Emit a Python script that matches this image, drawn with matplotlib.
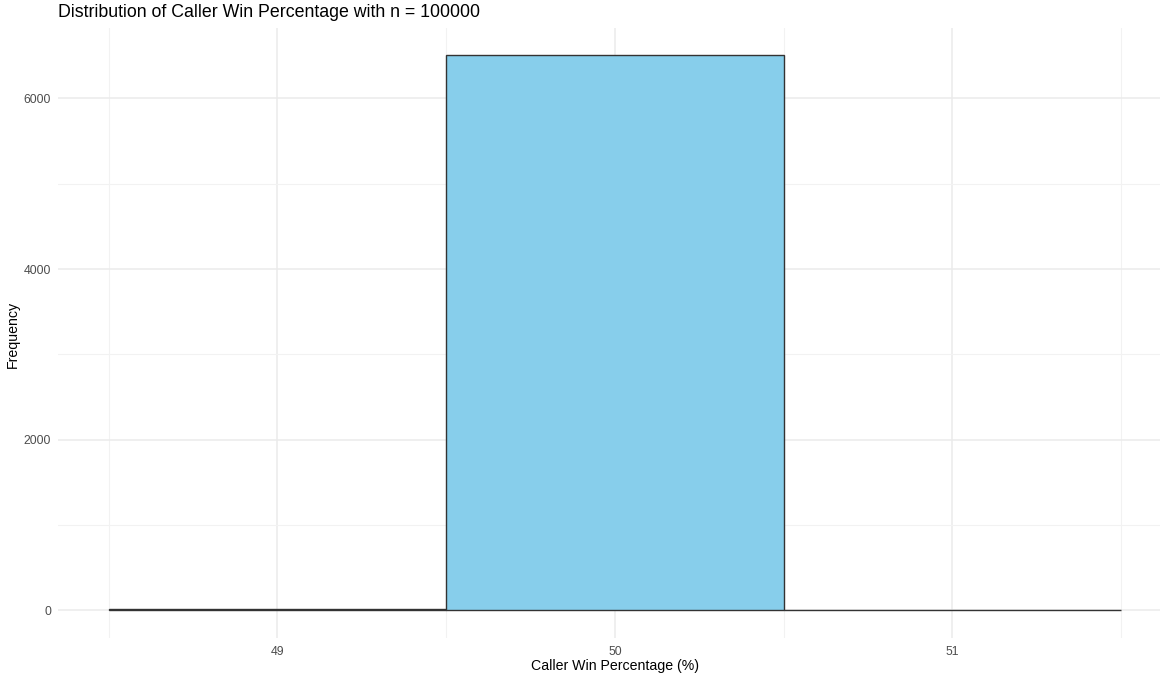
import matplotlib
matplotlib.use("Agg")
import matplotlib.pyplot as plt
from matplotlib.ticker import MultipleLocator

# 直方图数据（每个 bin 宽 1，中心在整数处）
bin_centers = [49, 50, 51]
counts = [12, 6505, 1]
bin_width = 1.0

x_ticks = [49, 50, 51]
y_ticks = [0, 2000, 4000, 6000]

plt.rcParams['font.family'] = ['Liberation Sans', 'DejaVu Sans']

fig = plt.figure(figsize=(11.6, 6.77), dpi=100)
ax = fig.add_axes([58 / 1160, 39 / 677, 1102 / 1160, 610 / 677])

ax.bar(bin_centers, counts, width=bin_width, color='#87CEEB',
       edgecolor='#333333', linewidth=1.0, zorder=3)

ax.set_xlim(48.35, 51.615)
ax.set_ylim(-325, 6825)
ax.set_xticks(x_ticks)
ax.set_yticks(y_ticks)
ax.xaxis.set_minor_locator(MultipleLocator(1, offset=0.5))
ax.yaxis.set_minor_locator(MultipleLocator(1000))

ax.grid(True, which='major', color='#EBEBEB', linewidth=1.1, zorder=0)
ax.grid(True, which='minor', color='#F2F2F2', linewidth=0.8, zorder=0)
for s in ax.spines.values():
    s.set_visible(False)
ax.tick_params(which='both', length=0)
ax.tick_params(axis='x', labelsize=8.8, labelcolor='#4D4D4D', pad=6)
ax.tick_params(axis='y', labelsize=8.8, labelcolor='#4D4D4D', pad=5)

ax.set_xlabel('Caller Win Percentage (%)', fontsize=10.2, va='center')
ax.xaxis.set_label_coords(0.5054, -28 / 610)
ax.set_ylabel('Frequency', fontsize=10.2, va='center')
ax.yaxis.set_label_coords(-45 / 1102, 0.498)
fig.text(58 / 1160, 1 - 17 / 677, 'Distribution of Caller Win Percentage with n = 100000',
         fontsize=12.8, ha='left', va='baseline')

plt.savefig('out.png', dpi=100)
